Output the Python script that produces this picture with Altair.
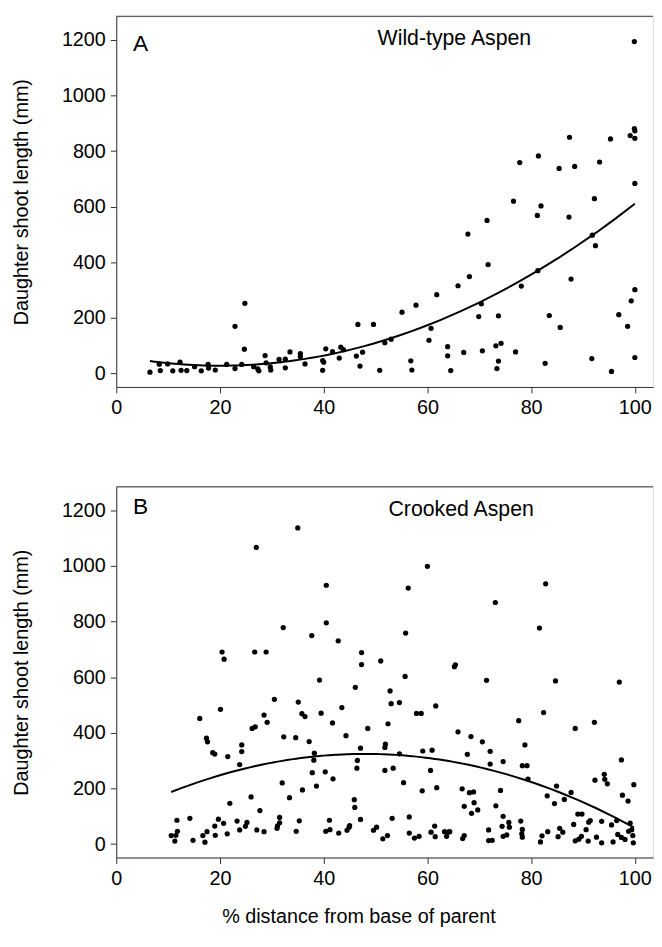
import altair as alt
import pandas as pd

# ---------------- data ----------------
wild_x = [6.5, 8.3, 8.5, 9.9, 10.9, 12.3, 12.5, 13.6, 15.1, 16.4,
          17.7, 17.8, 19.1, 21.3, 22.9, 22.9, 24.2, 24.7, 24.8, 26.5,
          27.3, 27.5, 28.7, 28.9, 29.7, 29.8, 31.4, 32.6, 32.6, 33.5,
          35.5, 35.5, 36.4, 39.8, 40.0, 39.8, 40.4, 41.7, 43.0, 43.3,
          43.8, 46.3, 46.6, 47.0, 47.5, 49.6, 50.8,
          51.8, 53.0, 55.1, 56.8, 57.0, 57.8, 60.3, 60.7, 61.8, 63.9,
          63.9, 64.5, 65.9, 67.0, 67.8, 68.1, 69.9, 70.4, 70.6, 71.5,
          71.7, 73.2, 73.4, 73.7, 73.7, 74.2, 76.6, 77.0, 77.8, 78.1,
          81.2, 81.3, 81.4, 81.9, 82.7, 83.5, 85.4, 85.6, 87.3, 87.4,
          87.7, 88.4, 91.7, 91.8, 92.2, 92.4, 93.2, 95.3, 95.5, 96.9,
          98.6, 99.1, 99.3, 99.9, 99.9, 100, 100, 100, 100, 100]
wild_y = [5, 34, 11, 35, 10, 41, 12, 11, 25, 10,
          33, 20, 13, 33, 170, 18, 33, 88, 253, 25,
          17, 10, 65, 39, 24, 13, 51, 52, 21, 78,
          72, 61, 35, 47, 41, 12, 89, 79, 56, 95,
          86, 63, 177, 27, 77, 177, 12,
          111, 124, 221, 46, 13, 246, 120, 163, 284, 97,
          64, 11, 316, 76, 502, 349, 205, 251, 82, 551,
          392, 100, 18, 208, 45, 109, 620, 78, 759, 315,
          569, 370, 783, 603, 37, 209, 738, 166, 563, 850,
          340, 745, 54, 498, 629, 460, 761, 844, 8, 212,
          170, 856, 262, 1194, 881, 873, 846, 684, 302, 58]

crook_x = [20.4, 20.8, 26.7, 27.0, 28.9, 32.2, 35.0, 37.7, 39.2, 40.5, 40.5, 42.8, 47.3, 47.3,
           51.0, 55.7, 55.8, 56.3, 60.0, 65.2, 65.4, 71.4, 73.1, 81.6, 82.8, 84.7, 97.0,
           10.6, 11.3, 11.5, 11.8, 11.7, 14.2, 14.8, 16.1, 16.7, 17.1,
           17.4, 17.6, 17.5, 18.6, 19.0, 19.0, 19.1, 19.7, 20.1, 20.7,
           21.4, 21.5, 21.9, 23.3, 23.8, 23.8, 24.2, 24.2, 24.9, 25.2,
           26.0, 26.2, 26.8, 27.1, 27.7, 28.5, 28.5, 29.1, 30.5, 31.0,
           31.1, 31.5, 31.5, 32.0, 32.3, 33.4, 34.6, 34.7, 35.1, 35.3,
           35.8, 35.9, 36.4, 37.2, 37.8, 38.1, 38.2, 38.6, 39.5, 40.3,
           40.4, 41.1, 41.2, 41.7, 41.8, 42.9, 43.5, 44.3, 44.5, 44.9,
           45.0, 45.9, 46.0, 46.1, 46.4, 46.5, 47.1, 47.1, 48.5, 49.6, 50.2,
           51.4, 51.8, 51.9, 51.8, 52.3, 52.4, 52.8, 53.0, 53.2, 53.4,
           54.6, 54.6, 55.4, 56.5, 56.5, 57.5, 57.9, 58.8, 58.4, 59.0,
           59.1, 60.6, 60.7, 60.9, 61.5, 61.4, 61.6, 61.8, 63.3, 63.7,
           64.0, 64.3, 65.9, 66.7, 66.8, 67.1, 67.1, 67.7, 68.1, 68.9,
           68.4, 68.5, 69.0, 69.7, 70.6, 71.8, 71.8, 72.1, 72.1, 72.5,
           73.2, 74.1, 74.4, 74.6, 74.6, 74.6, 75.3, 75.7, 75.8, 77.6,
           78.0, 78.3, 78.2, 78.3, 78.3, 78.8, 79.2, 79.4, 81.8, 82.1,
           82.4, 83.1, 83.2, 84.5, 84.9, 85.2, 85.5, 86.1, 86.4, 87.7,
           88.2, 88.5, 88.5, 89.0, 89.2, 89.8, 89.7, 90.6, 91.1, 91.4,
           91.0, 92.2, 92.3, 92.6, 93.6, 93.6, 94.1, 94.2, 94.7, 95.5,
           95.8, 96.5, 96.7, 97.4, 97.6, 97.4, 98.1, 98.7, 98.8, 99.1,
           99.4, 99.6, 99.8, 99.7]
crook_y = [691, 665, 691, 1067, 691, 779, 1137, 750, 590, 796, 931, 731, 689, 646,
           659, 603, 759, 921, 999, 638, 645, 589, 869, 777, 936, 587, 583,
           31, 11, 32, 46, 86, 93, 14, 452, 31, 7,
           381, 368, 45, 329, 324, 65, 32, 90, 485, 75,
           37, 315, 147, 83, 51, 286, 357, 333, 64, 78,
           170, 416, 422, 51, 121, 464, 45, 438, 521, 57,
           66, 77, 96, 220, 386, 167, 383, 46, 511, 84,
           469, 195, 459, 369, 257, 302, 327, 209, 471, 260,
           46, 86, 52, 436, 235, 40, 491, 390, 50, 61,
           67, 160, 132, 564, 273, 301, 345, 89, 416, 50, 61,
           19, 348, 360, 265, 31, 433, 551, 505, 93, 273,
           509, 325, 221, 40, 98, 22, 470, 470, 28, 192,
           335, 265, 43, 338, 27, 65, 497, 203, 45, 28,
           43, 45, 404, 199, 20, 136, 31, 323, 185, 188,
           387, 111, 149, 123, 368, 51, 13, 334, 288, 14,
           138, 193, 64, 28, 297, 100, 33, 78, 61, 444,
           83, 53, 37, 282, 25, 357, 282, 234, 8, 30,
           473, 174, 45, 146, 209, 27, 57, 43, 161, 186,
           71, 416, 12, 108, 18, 108, 28, 52, 79, 85,
           11, 438, 230, 25, 82, 5, 251, 233, 217, 69,
           8, 85, 35, 303, 176, 24, 17, 155, 46, 76,
           52, 31, 214, 5]

panel_letters = ["A", "B"]
panel_names = ["Wild-type Aspen", "Crooked Aspen"]
x_ticks = [0, 20, 40, 60, 80, 100]
y_ticks = [0, 200, 400, 600, 800, 1000, 1200]
x_title = "% distance from base of parent"
y_title = "Daughter shoot length (mm)"

# ---------------- styling ----------------
FONT = "Liberation Sans"
LINE = "#333333"
XMIN, XMAX = 0, 103.5
YMIN, YMAX = -48, 1285
W, H = 543, 375


def panel(xs, ys, letter, name, letter_pos, name_pos, show_xtitle):
    df = pd.DataFrame({"x": xs, "y": ys})
    xscale = alt.Scale(domain=[XMIN, XMAX], nice=False, zero=False)
    yscale = alt.Scale(domain=[YMIN, YMAX], nice=False, zero=False)
    xaxis_kw = dict(values=x_ticks, format="d", tickSize=6, labelPadding=5,
                    labelFontSize=20, labelFont=FONT, labelColor="black",
                    domainColor=LINE, tickColor=LINE, grid=False, labelFlush=False)
    if show_xtitle:
        xaxis = alt.Axis(title=x_title, titleFontSize=20, titleFont=FONT,
                         titleFontWeight="normal", titleColor="black",
                         titleX=245, titleY=60, titleAlign="center",
                         titleBaseline="middle", **xaxis_kw)
    else:
        xaxis = alt.Axis(title=None, **xaxis_kw)
    yaxis = alt.Axis(values=y_ticks, format="d", tickSize=6, labelPadding=5,
                     labelFontSize=20, labelFont=FONT, labelColor="black",
                     domainColor=LINE, tickColor=LINE, grid=False, title=y_title,
                     titleFontSize=20, titleFont=FONT, titleFontWeight="normal",
                     titleColor="black", titleX=-96, titleBaseline="middle",
                     titleAngle=270)
    x = alt.X("x:Q", scale=xscale, axis=xaxis)
    y = alt.Y("y:Q", scale=yscale, axis=yaxis)

    pts = alt.Chart(df).mark_circle(size=28, color="black", opacity=1).encode(x=x, y=y)
    fit = (alt.Chart(df)
           .transform_regression("x", "y", method="poly", order=2)
           .mark_line(color="black", strokeWidth=2)
           .encode(x="x:Q", y="y:Q"))
    one = pd.DataFrame({"k": [0]})
    top = alt.Chart(one).mark_rule(color=LINE, strokeWidth=1).encode(
        x=alt.datum(XMIN), x2=alt.datum(XMAX), y=alt.datum(YMAX))
    t_letter = alt.Chart(one).mark_text(text=letter, fontSize=23, font=FONT,
                                        color="black").encode(
        x=alt.datum(letter_pos[0]), y=alt.datum(letter_pos[1]))
    t_name = alt.Chart(one).mark_text(text=name, fontSize=21.5, font=FONT,
                                      color="black").encode(
        x=alt.datum(name_pos[0]), y=alt.datum(name_pos[1]))
    return alt.layer(pts, fit, top, t_letter, t_name).properties(width=W, height=H)


pa = panel(wild_x, wild_y, panel_letters[0], panel_names[0], (4.7, 1186), (65.2, 1203), False)
pb = panel(crook_x, crook_y, panel_letters[1], panel_names[1], (4.7, 1212), (66.5, 1203), True)

chart = (alt.vconcat(pa, pb, spacing=101, bounds="flush")
         .properties(padding={"left": 2.5, "top": 2, "right": 0, "bottom": 0})
         .configure_view(stroke=None)
         .configure(background="white"))

chart.save("out.html", embed_options={"renderer": "svg", "actions": False})
